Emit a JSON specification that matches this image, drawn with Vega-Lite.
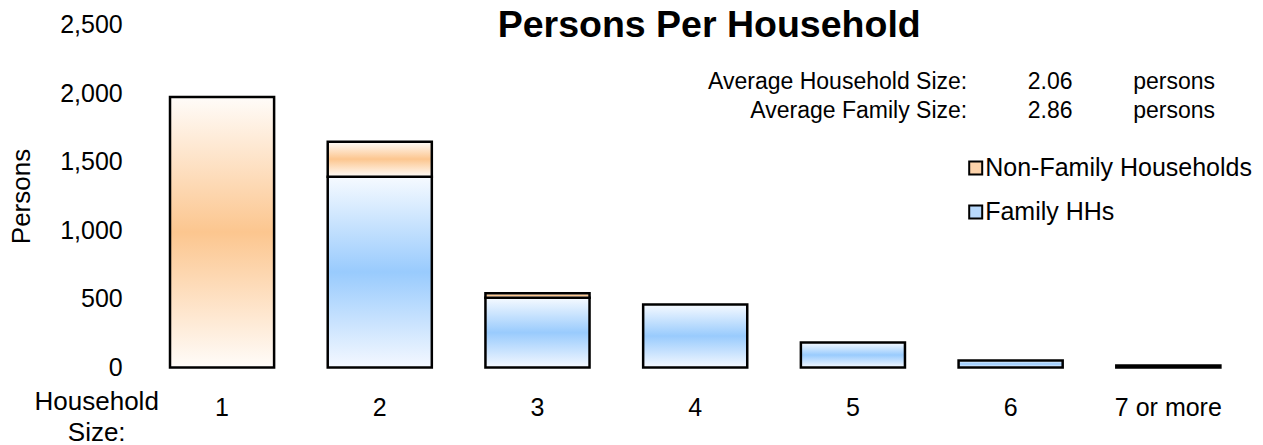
{
  "$schema": "https://vega.github.io/schema/vega-lite/v6.json",
  "width": 1104,
  "height": 343,
  "autosize": {"type": "none"},
  "padding": {"left": 143.2, "top": 24.5, "right": 15.8, "bottom": 77.5},
  "background": "white",
  "config": {"font": "Liberation Sans", "view": {"stroke": null}},
  "title": {
    "text": "Persons Per Household",
    "fontSize": 37.5,
    "fontWeight": "bold",
    "color": "black",
    "anchor": "middle",
    "frame": "group",
    "dx": 14,
    "baseline": "alphabetic",
    "offset": -62
  },
  "datasets": {
    "households": [
      {"size": "1", "type": "Non-Family Households", "count": 1972},
      {"size": "2", "type": "Family HHs", "count": 1391},
      {"size": "2", "type": "Non-Family Households", "count": 255},
      {"size": "3", "type": "Family HHs", "count": 509},
      {"size": "3", "type": "Non-Family Households", "count": 32},
      {"size": "4", "type": "Family HHs", "count": 460},
      {"size": "5", "type": "Family HHs", "count": 182},
      {"size": "6", "type": "Family HHs", "count": 51},
      {"size": "7 or more", "type": "Family HHs", "count": 14}
    ],
    "averages": [
      {"line": "Household", "part": "label", "text": "Average Household Size:"},
      {"line": "Household", "part": "value", "text": "2.06"},
      {"line": "Household", "part": "unit", "text": "persons"},
      {"line": "Family", "part": "label", "text": "Average Family Size:"},
      {"line": "Family", "part": "value", "text": "2.86"},
      {"line": "Family", "part": "unit", "text": "persons"}
    ]
  },
  "layer": [
    {
      "data": {"name": "households"},
      "mark": {"type": "bar", "stroke": "black", "strokeWidth": 2.5},
      "encoding": {
        "x": {
          "field": "size",
          "type": "ordinal",
          "sort": ["1", "2", "3", "4", "5", "6", "7 or more"],
          "scale": {"paddingInner": 0.34, "paddingOuter": 0.17},
          "axis": {
            "title": ["Household", "Size:"],
            "labelAngle": 0,
            "domain": false,
            "ticks": false,
            "tickSize": 0,
            "labelPadding": 47.5,
            "labelBaseline": "alphabetic",
            "labelFontSize": 25,
            "labelColor": "black",
            "titleFontSize": 26,
            "titleFontWeight": "normal",
            "titleColor": "black",
            "titleX": -47,
            "titleY": 41.5,
            "titleAlign": "center",
            "titleBaseline": "alphabetic",
            "titleLineHeight": 31
          }
        },
        "y": {
          "field": "count",
          "type": "quantitative",
          "stack": "zero",
          "scale": {"domain": [0, 2500], "nice": false},
          "axis": {
            "title": "Persons",
            "values": [0, 500, 1000, 1500, 2000, 2500],
            "format": ",d",
            "grid": false,
            "domain": false,
            "ticks": false,
            "tickSize": 0,
            "labelFlush": false,
            "labelPadding": 21,
            "labelFontSize": 25,
            "labelColor": "black",
            "titleFontSize": 26,
            "titleFontWeight": "normal",
            "titleColor": "black",
            "titleX": -122,
            "titleY": 171.5,
            "titleAngle": -90,
            "titleAlign": "center",
            "titleBaseline": "middle"
          }
        },
        "detail": {"field": "type", "type": "nominal"},
        "order": {"field": "type", "sort": "ascending"},
        "fill": {
          "condition": {
            "test": "datum.type === 'Family HHs'",
            "value": {
              "gradient": "linear",
              "x1": 0, "y1": 0, "x2": 0, "y2": 1,
              "stops": [
                {"offset": 0, "color": "#f6faff"},
                {"offset": 0.5, "color": "#99cbfd"},
                {"offset": 1, "color": "#f4f8ff"}
              ]
            }
          },
          "value": {
            "gradient": "linear",
            "x1": 0, "y1": 0, "x2": 0, "y2": 1,
            "stops": [
              {"offset": 0, "color": "#fffcf9"},
              {"offset": 0.5, "color": "#fcc68f"},
              {"offset": 1, "color": "#fffcf9"}
            ]
          }
        }
      }
    },
    {
      "data": {"name": "households"},
      "mark": {"type": "square", "opacity": 0},
      "encoding": {
        "fill": {
          "field": "type",
          "type": "nominal",
          "scale": {"domain": ["Non-Family Households", "Family HHs"], "range": ["#fdd3aa", "#b8d9fc"]},
          "legend": {
            "title": null,
            "orient": "none",
            "legendX": 820,
            "legendY": 131,
            "padding": 0,
            "symbolType": "square",
            "symbolSize": 169,
            "symbolStrokeColor": "black",
            "symbolStrokeWidth": 2,
            "symbolOpacity": 1,
            "labelFontSize": 25,
            "labelColor": "black",
            "labelOffset": -3,
            "labelLimit": 400,
            "rowPadding": 18
          }
        }
      }
    },
    {
      "data": {"name": "averages"},
      "encoding": {
        "x": {
          "field": "part",
          "type": "nominal",
          "scale": {"type": "point", "domain": ["label", "value", "unit"], "range": [824, 990], "padding": 0},
          "axis": null
        },
        "y": {
          "field": "line",
          "type": "nominal",
          "scale": {"type": "point", "domain": ["Household", "Family"], "range": [64.5, 93.5], "padding": 0},
          "axis": null
        },
        "text": {"field": "text"}
      },
      "layer": [
        {
          "transform": [{"filter": "datum.part === 'label'"}],
          "mark": {"type": "text", "align": "right", "baseline": "alphabetic", "fontSize": 23, "color": "black"}
        },
        {
          "transform": [{"filter": "datum.part === 'value'"}],
          "mark": {"type": "text", "align": "center", "baseline": "alphabetic", "fontSize": 23, "color": "black"}
        },
        {
          "transform": [{"filter": "datum.part === 'unit'"}],
          "mark": {"type": "text", "align": "left", "baseline": "alphabetic", "fontSize": 23, "color": "black"}
        }
      ]
    }
  ],
  "resolve": {"scale": {"x": "independent", "y": "independent"}}
}
